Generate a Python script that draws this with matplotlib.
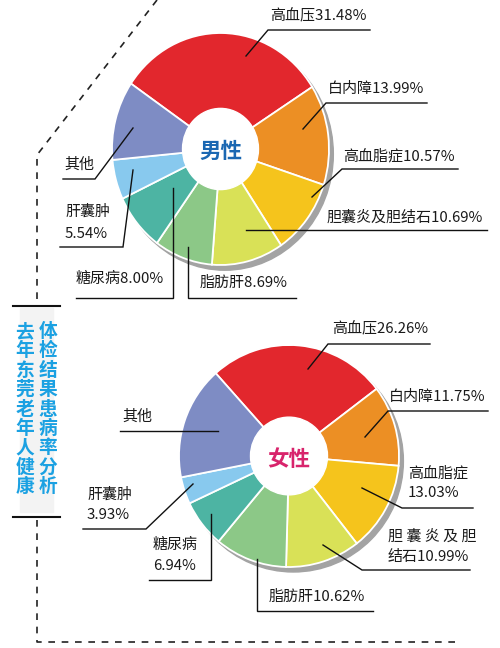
import matplotlib.pyplot as plt
from matplotlib.patches import Circle, Rectangle

plt.rcParams['font.family'] = ['Noto Sans CJK SC', 'DejaVu Sans']

# data
names = ['高血压', '白内障', '高血脂症', '胆囊炎及胆结石', '脂肪肝', '糖尿病', '肝囊肿', '其他']
male_values = [31.48, 13.99, 10.57, 10.69, 8.69, 8.00, 5.54, 11.04]
female_values = [26.26, 11.75, 13.03, 10.99, 10.62, 6.94, 3.93, 16.48]
show_value = [True, True, True, True, True, True, True, False]
colors = ['#e2272d', '#ec8f24', '#f5c41c', '#d9e157', '#8cc887', '#4db4a3', '#88c9ee', '#7e8cc4']
title_left = '去年东莞老年人健康'
title_right = '体检结果患病率分析'

W, H = 500, 648
fig = plt.figure(figsize=(W / 100, H / 100), dpi=100)


def pie_axes(left, top, w, h, values, start):
    m = 1.1
    cx, cy = left + w / 2, top + h / 2
    aw, ah = w * m, h * m
    pax = fig.add_axes([(cx - aw / 2) / W, 1 - (cy + ah / 2) / H, aw / W, ah / H])
    pax.add_patch(Circle((0.04, -0.045), 1, color='#a3a3a3', zorder=0))
    pax.pie(values, colors=colors, startangle=start, counterclock=False,
            radius=1, frame=True,
            wedgeprops=dict(edgecolor='white', linewidth=1.3))
    pax.add_patch(Circle((0, 0), 0.35, color='white', zorder=5))
    pax.set_xlim(-m, m)
    pax.set_ylim(-m, m)
    pax.set_aspect('auto')
    pax.axis('off')
    return pax


# red wedge centred near the top, slices run clockwise
pie_axes(112, 33, 217, 232, male_values, 89 + male_values[0] * 1.8)
pie_axes(179, 345, 220, 222, female_values, 84.5 + female_values[0] * 1.8)

ax = fig.add_axes([0, 0, 1, 1], zorder=10)
ax.set_xlim(0, W)
ax.set_ylim(H, 0)
ax.axis('off')
ax.patch.set_visible(False)

ax.text(221, 151, '男性', color='#1a67b2', fontsize=15.5, fontweight='bold',
        ha='center', va='center')
ax.text(289, 459, '女性', color='#d8246c', fontsize=15.5, fontweight='bold',
        ha='center', va='center')

# label layout: point in wedge, elbow, underline end x, text x, first line y, split, line gap
male_layout = [
    ((246, 56), (268, 30), 370, 270, 16, 0, 0),
    ((303, 129), (326, 103), 427, 328, 89, 0, 0),
    ((312, 197), (342, 169), 458, 343, 156, 0, 0),
    ((246, 230), (246, 230), 487, 327, 218, 0, 0),
    ((188, 247), (188, 298), 296, 200, 283, 0, 0),
    ((173, 188), (173, 298), 76, 76, 279, 0, 0),
    ((133, 170), (123, 247), 60, 65, 212, 3, 22),
    ((133, 128), (95, 179), 63, 64, 165, 0, 0),
]
female_layout = [
    ((308, 369), (328, 344), 430, 332, 329, 0, 0),
    ((365, 437), (388, 411), 488, 389, 397, 0, 0),
    ((362, 488), (402, 508), 473, 408, 473, 4, 20),
    ((323, 545), (362, 570), 470, 388, 537, 5, 20),
    ((257, 559), (257, 611), 373, 269, 597, 0, 0),
    ((211, 514), (211, 580), 149, 153, 545, 3, 21),
    ((193, 484), (146, 529), 83, 87, 495, 3, 20),
    ((218, 431), (218, 431), 120, 122, 417, 0, 0),
]


def draw_labels(values, layout):
    for name, v, shown, lay in zip(names, values, show_value, layout):
        p, elbow, x_end, tx, ty, split, gap = lay
        tail = f'{v:.2f}%' if shown else ''
        if split:
            first = name[:split]
            if len(first) > 4:
                first = ' '.join(first)
            lines = [first, name[split:] + tail]
        else:
            lines = [name + tail]
        for i, line in enumerate(lines):
            ax.text(tx, ty + i * gap, line, fontsize=10.8, color='#1a1a1a',
                    ha='left', va='center')
        ax.plot([p[0], elbow[0], x_end], [p[1], elbow[1], elbow[1]],
                color='#111111', lw=1.0, solid_joinstyle='miter')


draw_labels(male_values, male_layout)
draw_labels(female_values, female_layout)

# title block on the left
ax.add_patch(Rectangle((20, 308), 33, 204, color='#f3f3f3', zorder=0))
for i, ch in enumerate(title_left):
    ax.text(25, 331.5 + i * 19.4, ch, color='#1ba1e2', fontsize=13.5,
            fontweight='bold', ha='center', va='center')
for i, ch in enumerate(title_right):
    ax.text(48, 331.5 + i * 19.4, ch, color='#1ba1e2', fontsize=13.5,
            fontweight='bold', ha='center', va='center')
ax.plot([13, 60], [306, 306], color='#111111', lw=1.5)
ax.plot([13, 60], [517, 517], color='#111111', lw=1.5)

dash = dict(color='#222222', lw=1.2, linestyle=(0, (4, 4)))
ax.plot([157, 37, 37], [0, 155, 303], **dash)
ax.plot([37, 37, 455], [520, 642, 642], **dash)

fig.savefig('out.png', dpi=100, facecolor='white')
